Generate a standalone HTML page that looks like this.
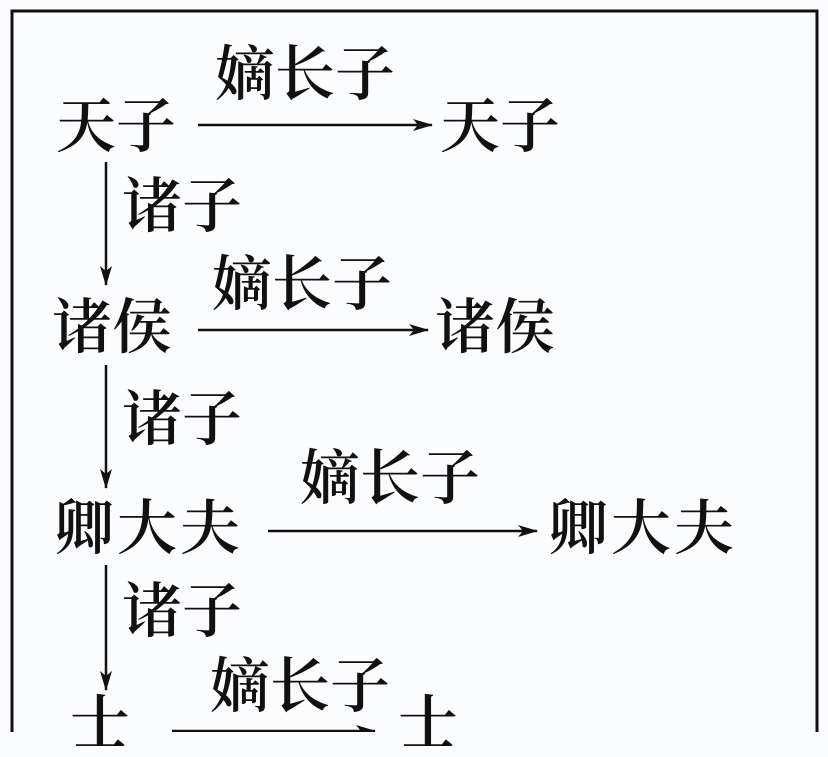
<!DOCTYPE html>
<html><head><meta charset="utf-8"><style>
html,body{margin:0;padding:0;background:#fbfcfe;}
body{width:828px;height:732px;position:relative;overflow:hidden;}
.t{position:absolute;font-family:"Liberation Serif","Noto Serif CJK SC",serif;font-weight:600;font-size:60px;line-height:60px;color:#111;white-space:nowrap;}
svg{position:absolute;left:0;top:0;}
</style></head><body>
<svg width="828" height="732">
<defs><marker id="a" viewBox="0 0 20 12" refX="19" refY="6" markerWidth="20" markerHeight="12" markerUnits="userSpaceOnUse" orient="auto"><path d="M0,0 L20,6 L0,12 L5,6 Z" fill="#111"/></marker></defs>
<rect x="12" y="11" width="805" height="740" fill="none" stroke="#111" stroke-width="3"/>
<g stroke="#111" stroke-width="2.5" fill="none">
<line x1="198" y1="125" x2="432" y2="125" marker-end="url(#a)"/>
<line x1="198" y1="330" x2="428" y2="330" marker-end="url(#a)"/>
<line x1="268" y1="531" x2="537" y2="531" marker-end="url(#a)"/>
<line x1="172" y1="731" x2="375" y2="731" marker-end="url(#a)"/>
<line x1="106" y1="162" x2="106" y2="285" marker-end="url(#a)"/>
<line x1="106" y1="365" x2="106" y2="488" marker-end="url(#a)"/>
<line x1="106" y1="565" x2="106" y2="690" marker-end="url(#a)"/>
</g>
</svg>
<div class="t" style="left:56px;top:97px;">天子</div>
<div class="t" style="left:440px;top:97px;">天子</div>
<div class="t" style="left:215px;top:45px;">嫡长子</div>
<div class="t" style="left:122px;top:177px;">诸子</div>
<div class="t" style="left:52px;top:298px;">诸侯</div>
<div class="t" style="left:435px;top:298px;">诸侯</div>
<div class="t" style="left:212px;top:255px;">嫡长子</div>
<div class="t" style="left:122px;top:390px;">诸子</div>
<div class="t" style="left:54px;top:499px;letter-spacing:3px;">卿大夫</div>
<div class="t" style="left:548px;top:499px;letter-spacing:3px;">卿大夫</div>
<div class="t" style="left:300px;top:449px;">嫡长子</div>
<div class="t" style="left:122px;top:582px;">诸子</div>
<div class="t" style="left:70px;top:694px;">士</div>
<div class="t" style="left:398px;top:694px;">士</div>
<div class="t" style="left:210px;top:657px;">嫡长子</div>
</body></html>
